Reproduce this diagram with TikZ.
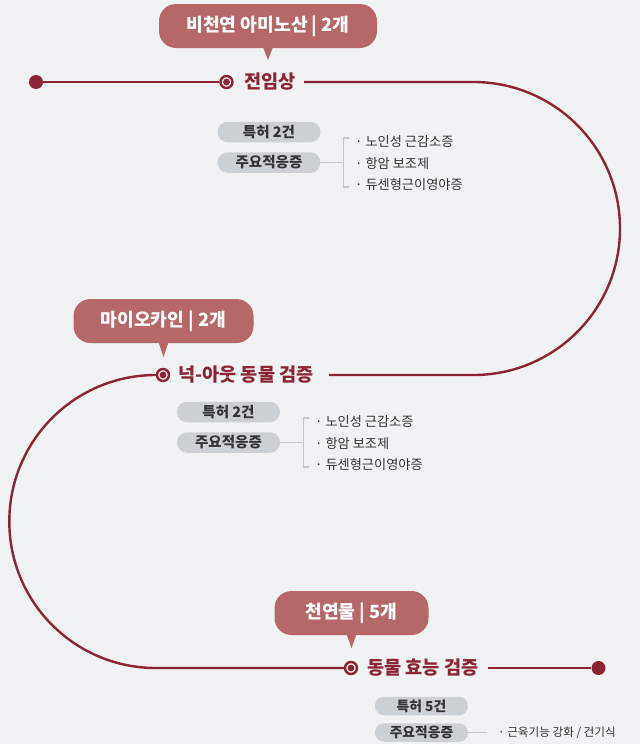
\documentclass[tikz,border=0pt]{standalone}
\usepackage{fontspec}
\setmainfont{Noto Sans CJK KR}
\usetikzlibrary{calc}
\definecolor{bg}{HTML}{F1F2F4}
\definecolor{wine}{HTML}{8B2434}
\definecolor{callc}{HTML}{B5676A}
\definecolor{pillc}{HTML}{CBD0D5}
\definecolor{brk}{HTML}{C3C8CE}
\definecolor{txt}{HTML}{333333}
\newcommand\myfs[1]{\fontsize{#1}{#1}\selectfont}
\begin{document}
\begin{tikzpicture}[x=1pt,y=-1pt,
  wpath/.style={draw=wine, line width=2.4pt},
  enddot/.style={circle, fill=wine, minimum size=14pt, inner sep=0pt},
  ring/.style={circle, draw=wine, line width=2.4pt, fill=bg, minimum size=12pt, inner sep=0pt},
  stagelbl/.style={anchor=west, font=\bfseries\myfs{18.6}, text=wine, inner sep=0pt},
  callout/.style={rounded corners=17pt, fill=callc, text=white, font=\bfseries\myfs{18.2}, minimum height=44pt, inner sep=0pt},
  pill/.style={rounded corners=10pt, fill=pillc, text=txt, font=\bfseries\myfs{14.5}, minimum width=103pt, minimum height=20.5pt, inner sep=0pt},
  pillsm/.style={rounded corners=9pt, fill=pillc, text=txt, font=\bfseries\myfs{13.8}, minimum width=93pt, minimum height=18.5pt, inner sep=0pt},
  item/.style={anchor=west, font=\myfs{13.2}, text=txt, inner sep=0pt},
  itemsm/.style={anchor=west, font=\myfs{11.6}, text=txt, inner sep=0pt},
  brkline/.style={draw=brk, line width=1.5pt}
]
\fill[bg] (0,0) rectangle (640,744);
\useasboundingbox (0,0) rectangle (640,744);

% ---------- main path ----------
\node[enddot] (s0) at (36,82) {};
\node[ring] (m1) at (226.5,82) {};
\node[stagelbl] (l1) at (244,82) {전임상};
\coordinate (a1) at (304,82);
\coordinate (a2) at (329,375);
\node[ring] (m2) at (163,375) {};
\node[stagelbl] (l2) at (178,375) {넉-아웃 동물 검증};
\node[ring] (m3) at (351,668) {};
\node[stagelbl] (l3) at (367,668) {동물 효능 검증};
\coordinate (a3) at (488,668);
\node[enddot] (e0) at (598.5,668) {};

\draw[wpath] (s0) -- (m1);
\draw[wpath] (a1) -- (473.5,82) arc[start angle=90, end angle=-90, radius=146.5pt] -- (a2);
\draw[wpath] (m2.west) arc[start angle=90, end angle=270, radius=146.5pt] -- (m3);
\draw[wpath] (a3) -- (e0);
\foreach \m in {m1,m2,m3} \fill[wine] (\m.center) circle (3.4pt);

% ---------- callouts ----------
\node[callout, minimum width=218pt] (c1) at (268,26) {비천연 아미노산 | 2개};
\fill[callc] ($(c1.south)+(-5,-1)$) -- ($(c1.south)+(5,-1)$) -- (268,60) -- cycle;
\node[callout, minimum width=180pt] (c2) at (163.5,321) {마이오카인 | 2개};
\fill[callc] ($(c2.south)+(-5,-1)$) -- ($(c2.south)+(5,-1)$) -- (163.5,357) -- cycle;
\node[callout, minimum width=154pt] (c3) at (351.5,613) {천연물 | 5개};
\fill[callc] ($(c3.south)+(-5,-1)$) -- ($(c3.south)+(5,-1)$) -- (351.5,648) -- cycle;

% ---------- info 1 ----------
\node[pill] (p1a) at (269,132) {특허 2건};
\node[pill] (p1b) at (269,162.5) {주요적응증};
\coordinate (b1t) at (343.5,138);
\coordinate (b1b) at (343.5,187);
\draw[brkline] (p1b.east) -- (343.5,162.5);
\draw[brkline] ($(b1t)+(5.5,0)$) -- (b1t) -- (b1b) -- ($(b1b)+(5.5,0)$);
\node[item] (i1a) at (355,141.5) {· 노인성 근감소증};
\node[item] (i1b) at (355,163.5) {· 항암 보조제};
\node[item] (i1c) at (355,185) {· 듀센형근이영야증};

% ---------- info 2 ----------
\node[pill] (p2a) at (228.5,412) {특허 2건};
\node[pill] (p2b) at (228.5,442.5) {주요적응증};
\coordinate (b2t) at (303.5,418);
\coordinate (b2b) at (303.5,467);
\draw[brkline] (p2b.east) -- (303.5,442.5);
\draw[brkline] ($(b2t)+(5.5,0)$) -- (b2t) -- (b2b) -- ($(b2b)+(5.5,0)$);
\node[item] (i2a) at (315,421.5) {· 노인성 근감소증};
\node[item] (i2b) at (315,443.5) {· 항암 보조제};
\node[item] (i2c) at (315,465) {· 듀센형근이영야증};

% ---------- info 3 ----------
\node[pillsm] (p3a) at (421.5,706) {특허 5건};
\node[pillsm] (p3b) at (421.5,732.5) {주요적응증};
\coordinate (b3) at (487,732.5);
\draw[brkline] (p3b.east) -- (b3);
\node[itemsm] (i3a) at (498,733) {· 근육기능 강화 / 건기식};
\end{tikzpicture}
\end{document}
